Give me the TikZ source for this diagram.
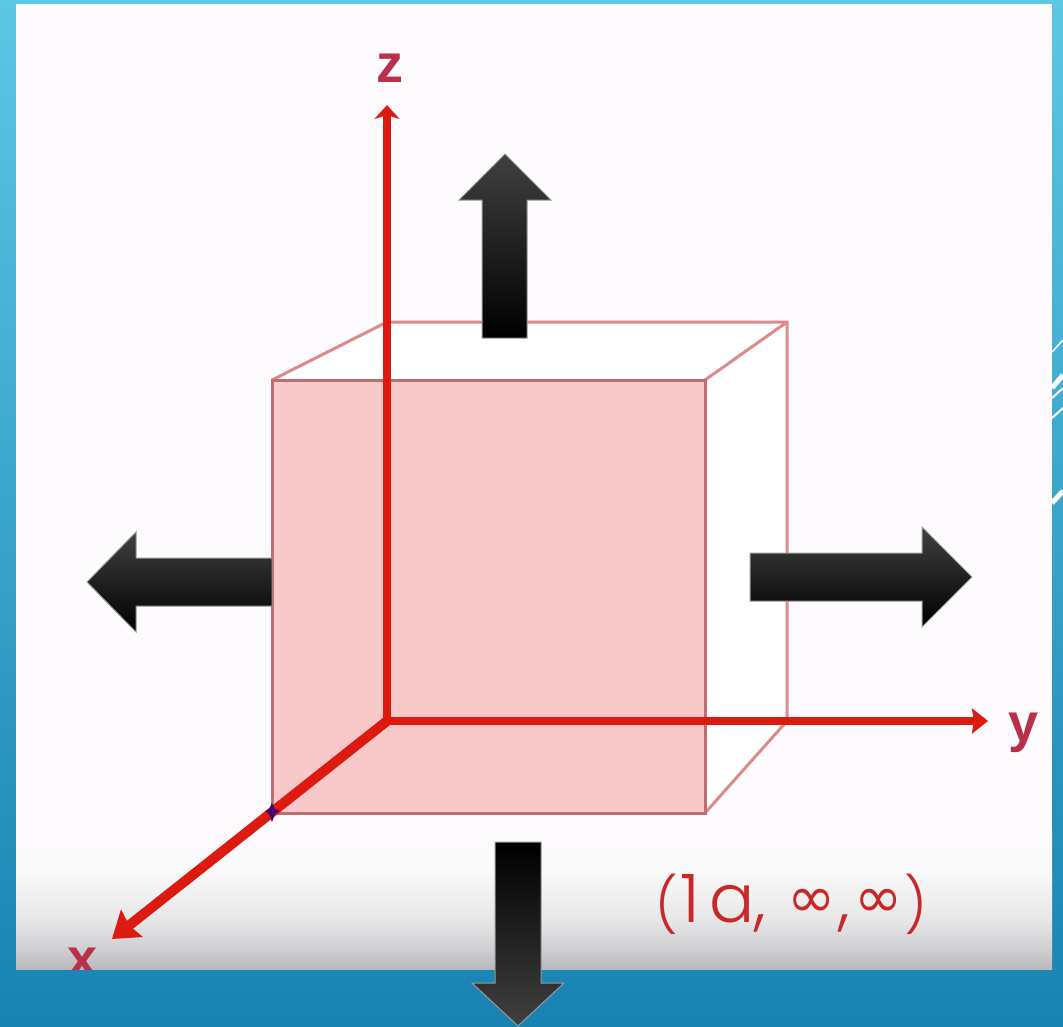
\documentclass[tikz,border=0pt]{standalone}
\usepackage{fontspec}
\setmainfont{Liberation Sans}
\newfontfamily\popfont{Poppins Light}
\newfontfamily\symfont{DejaVu Sans}
\usetikzlibrary{arrows.meta}
\definecolor{bgtop}{HTML}{5CC8E4}
\definecolor{bgbot}{HTML}{1882B3}
\definecolor{panel}{HTML}{FEFBFE}
\definecolor{panelgray}{HTML}{B9B9BD}
\definecolor{cubefill}{HTML}{F9C9C9}
\definecolor{cubeline}{HTML}{BC6E70}
\definecolor{backline}{HTML}{DC8A8A}
\definecolor{axisred}{HTML}{DD1A10}
\definecolor{lblred}{HTML}{B8304A}
\definecolor{txtred}{HTML}{C82828}
\definecolor{arrowlight}{HTML}{404040}
\pgfdeclareverticalshading{panelfade}{100bp}{
  color(0bp)=(panelgray); color(25bp)=(panelgray);
  color(31.8bp)=(panelgray!70!white);
  color(42.6bp)=(panelgray!35!white);
  color(60.6bp)=(panelgray!8!white);
  color(75bp)=(panel); color(100bp)=(panel)}
\tikzset{
  blockup/.style={draw=gray!80,line width=1pt,top color=arrowlight,bottom color=black},
  blockdown/.style={draw=gray!80,line width=1pt,top color=black,bottom color=arrowlight},
  blockside/.style={draw=gray!80,line width=1pt,top color=arrowlight,bottom color=black},
  cubeedge/.style={draw=backline,line width=3pt},
  frontedge/.style={draw=cubeline,line width=3pt},
  axisline/.style={draw=axisred,line width=7.5pt},
  axislbl/.style={text=lblred,font=\fontsize{54}{54}\selectfont\bfseries,inner sep=0pt}
}
\newcommand{\infsym}{\raisebox{5pt}{\symfont\fontsize{58}{58}\selectfont ∞}}
\newcommand{\parenchar}[1]{\raisebox{-2pt}{\fontsize{54}{54}\selectfont #1}}
\begin{document}
\begin{tikzpicture}[x=1pt,y=-1pt]
\useasboundingbox (0,0) rectangle (1063,1026);
\shade[top color=bgtop,bottom color=bgbot,shading angle=0] (0,0) rectangle (1063,1026);
% edge stripes
\draw[draw=white,line width=1.5pt] (1052,352) -- (1063,340);
\draw[draw=white,line width=5pt] (1052,388) -- (1063,375);
\draw[draw=white,line width=2pt] (1052,398) -- (1063,388);
\draw[draw=white,line width=2pt] (1052,418) -- (1063,408);
\draw[draw=white,line width=5pt] (1052,503) -- (1063,491);
% panel
\fill[panel] (16,4) rectangle (1052,830);
\shade[shading=panelfade] (16,830) rectangle (1052,969);
% cube
\coordinate (ftl) at (272,380);
\coordinate (ftr) at (705,380);
\coordinate (fbr) at (705,813);
\coordinate (fbl) at (272,813);
\coordinate (btl) at (387,322);
\coordinate (btr) at (787,322);
\coordinate (bbr) at (787,721);
\fill[white] (ftl) -- (btl) -- (btr) -- (bbr) -- (fbr) -- (ftr) -- cycle;
\fill[cubefill] (ftl) rectangle (fbr);
\draw[cubeedge] (ftl) -- (btl) -- (btr) -- (bbr) -- (fbr);
\draw[cubeedge] (ftr) -- (btr);
\draw[frontedge] (ftl) rectangle (fbr);
% axes
\coordinate (orig) at (387,721);
\coordinate (zend) at (387,105);
\coordinate (yend) at (988,721);
\coordinate (xend) at (112,939);
\draw[axisline,-{Stealth[length=14pt,width=25pt,inset=4pt]}] (orig) -- (zend);
\draw[axisline,-{Stealth[length=16pt,width=25pt,inset=2pt]}] (orig) -- (yend);
\draw[axisline,line width=10pt,-{Stealth[length=25pt,width=34pt,inset=3pt]}] (orig) -- (xend);
\fill[blue!60!red!70!black] (272,803) -- (275,809) -- (280,811) -- (275,814) -- (272,822) -- (269,814) -- (265,811) -- (269,809) -- cycle;
% labels
\node[axislbl] (zlbl) at (390,68) {z};
\node[axislbl,anchor=base] (ylbl) at (1024,741) {y};
\begin{scope}
\clip (16,4) rectangle (1052,969);
\node[axislbl,anchor=base] (xlbl) at (83,976) {x};
\end{scope}
\node[inner sep=0pt,text=txtred,anchor=base west,font=\fontsize{67}{67}\selectfont\popfont] (miller) at (655,922)
  {\parenchar{(}\kern3pt 1\kern9pt a,\kern21pt\infsym\kern3pt,\kern4pt\infsym\kern2pt\parenchar{)}};
% block arrows
\path[blockup] (505,154) -- (551,200) -- (527,200) -- (527,338) -- (482,338) -- (482,200) -- (459,200) -- cycle;
\path[blockdown] (495,842) -- (541,842) -- (541,983) -- (564,983) -- (518,1026) -- (472,983) -- (495,983) -- cycle;
\path[blockside] (87,582) -- (136,532) -- (136,558) -- (272,558) -- (272,606) -- (136,606) -- (136,632) -- cycle;
\path[blockside] (972,577) -- (922,527) -- (922,553) -- (750,553) -- (750,601) -- (922,601) -- (922,627) -- cycle;
\end{tikzpicture}
\end{document}
